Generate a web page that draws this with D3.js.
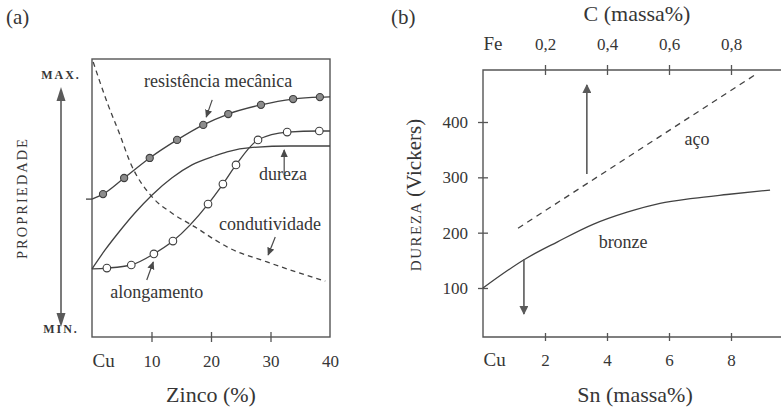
<!DOCTYPE html>
<html>
<head>
<meta charset="utf-8">
<script src="https://cdn.jsdelivr.net/npm/d3@7"></script>
<style>
  body { margin: 0; background: #fff; }
  svg { display: block; font-family: "Liberation Serif", "DejaVu Serif", serif; }
  .ink { fill: #363636; }
  .curve { fill: none; stroke: #424242; stroke-width: 1.3; }
  .frame { fill: none; stroke: #555; stroke-width: 1.4; }
  .tick line { stroke: #555; stroke-width: 1.3; }
  .tick text { fill: #363636; font-family: "Liberation Serif", serif; }
</style>
</head>
<body>
<svg id="chart" width="781" height="410"></svg>
<script>
// ---- painel (a): propriedades do latão vs. zinco ----
var resistZinc = [0, 1.85, 5.4, 9.7, 14.3, 18.7, 22.9, 28.4, 33.8, 38.3, 40];
var resistProp = [49.6, 51.4, 57.2, 64.4, 70.9, 76.3, 80.2, 83.5, 85.6, 86.3, 86.4];

var alongZinc = [0, 2.5, 6.6, 10.4, 13.6, 19.5, 22.0, 24.2, 27.9, 32.8, 38.2, 40];
var alongProp = [24.5, 24.8, 25.9, 29.9, 34.5, 47.8, 55.0, 61.9, 70.9, 73.7, 74.1, 74.1];

var durezaZinc = [0, 2.2, 4.4, 7.2, 10.1, 13.4, 16.8, 20.7, 22.7, 27, 33.3, 40];
var durezaProp = [24.5, 31.3, 37.4, 44.6, 51.1, 57.2, 61.9, 65.2, 66.6, 68.2, 68.7, 68.7];

var condZinc = [0.2, 2.7, 4.7, 6.4, 10.1, 13.4, 17.3, 20.7, 22.7, 29.4, 39.2];
var condProp = [98.9, 83.5, 72.7, 62.9, 50.4, 44.6, 39.6, 34.9, 32.4, 27.0, 20.1];

var zincTicks = [10, 20, 30];
var zincLabels = [0, 10, 20, 30, 40];

// ---- painel (b): dureza de bronze e aço ----
var bronzeSn = [0, 1.35, 2.39, 3.55, 4.65, 5.71, 6.77, 7.87, 9.26];
var bronzeHV = [100, 152, 183, 215, 237, 253, 262, 269, 277];

var steelC = [0.113, 0.877];
var steelHV = [208, 485];

var snTicks = [2, 4, 6, 8];
var snLabels = [0, 2, 4, 6, 8];
var cTicks = [0.2, 0.4, 0.6, 0.8];
var cLabels = [0, 0.2, 0.4, 0.6, 0.8];
var hvTicks = [100, 200, 300, 400];

var zip = (xs, ys) => xs.map((x, i) => [x, ys[i]]);

var svg = d3.select("#chart");

var defs = svg.append("defs");
defs.append("marker")
    .attr("id", "head")
    .attr("viewBox", "0 0 10 10")
    .attr("refX", 9).attr("refY", 5)
    .attr("markerWidth", 8).attr("markerHeight", 8)
    .attr("markerUnits", "userSpaceOnUse")
    .attr("orient", "auto")
  .append("path")
    .attr("d", "M0,0.5 L10,5 L0,9.5 Z")
    .attr("fill", "#4a4a4a");
defs.append("marker")
    .attr("id", "headBig")
    .attr("viewBox", "0 0 10 10")
    .attr("refX", 9).attr("refY", 5)
    .attr("markerWidth", 13).attr("markerHeight", 9)
    .attr("markerUnits", "userSpaceOnUse")
    .attr("orient", "auto")
  .append("path")
    .attr("d", "M0,0 L10,5 L0,10 Z")
    .attr("fill", "#5a5a5a");

function arrow(g, x1, y1, x2, y2, big) {
    g.append("line")
        .attr("x1", x1).attr("y1", y1).attr("x2", x2).attr("y2", y2)
        .attr("stroke", big ? "#5a5a5a" : "#4a4a4a")
        .attr("stroke-width", big ? 1.6 : 1.2)
        .attr("marker-end", big ? "url(#headBig)" : "url(#head)");
}

function label(g, x, y, txt, size, anchor) {
    return g.append("text")
        .attr("class", "ink")
        .attr("x", x).attr("y", y)
        .attr("text-anchor", anchor || "middle")
        .attr("font-size", size)
        .text(txt);
}

// =============== (a) ===============
var A = { left: 92, right: 330, top: 59, bottom: 337 };
var xA = d3.scaleLinear().domain([0, 40]).range([A.left, A.right]);
var yA = d3.scaleLinear().domain([0, 100]).range([A.bottom, A.top]);
var gA = svg.append("g");

label(gA, 6, 24, "(a)", 21, "start");

gA.append("rect").attr("class", "frame")
    .attr("x", A.left).attr("y", A.top)
    .attr("width", A.right - A.left).attr("height", A.bottom - A.top);

var ticksA = gA.append("g")
    .attr("transform", `translate(0,${A.bottom})`)
    .call(d3.axisBottom(xA).tickValues(zincTicks).tickSize(5).tickFormat(""));
ticksA.select(".domain").remove();
ticksA.selectAll(".tick line").attr("y1", -5);

var labA = gA.append("g")
    .attr("transform", `translate(0,${A.bottom})`)
    .call(d3.axisBottom(xA).tickValues(zincLabels).tickSize(0)
        .tickFormat(d => d === 0 ? "Cu" : d));
labA.select(".domain").remove();
labA.selectAll(".tick text")
    .attr("y", 30).attr("dy", 0)
    .attr("font-size", d => d === 0 ? 19 : 17)
    .attr("text-anchor", d => d === 0 ? "start" : "middle");

label(gA, xA(20), 402, "Zinco (%)", 22);

var lineA = d3.line().x(d => xA(d[0])).y(d => yA(d[1])).curve(d3.curveMonotoneX);

// condutividade (tracejada)
gA.append("path").attr("class", "curve")
    .attr("stroke-dasharray", "5,4")
    .attr("d", lineA(zip(condZinc, condProp)));

// dureza
gA.append("path").attr("class", "curve")
    .attr("d", lineA(zip(durezaZinc, durezaProp)));

// resistência mecânica
var resPts = zip(resistZinc, resistProp);
gA.append("line").attr("class", "curve")
    .attr("x1", xA(0) - 6).attr("x2", xA(0))
    .attr("y1", yA(resistProp[0])).attr("y2", yA(resistProp[0]));
gA.append("path").attr("class", "curve").attr("d", lineA(resPts));
gA.selectAll(".res").data(resPts.slice(1, -1)).enter().append("circle")
    .attr("cx", d => xA(d[0])).attr("cy", d => yA(d[1])).attr("r", 3.6)
    .attr("fill", "#8c8c8c").attr("stroke", "#3e3e3e").attr("stroke-width", 1.1);

// alongamento
var alPts = zip(alongZinc, alongProp);
gA.append("path").attr("class", "curve").attr("d", lineA(alPts));
gA.selectAll(".al").data(alPts.slice(1, -1)).enter().append("circle")
    .attr("cx", d => xA(d[0])).attr("cy", d => yA(d[1])).attr("r", 3.8)
    .attr("fill", "#fff").attr("stroke", "#3e3e3e").attr("stroke-width", 1.1);

// rótulos das curvas
label(gA, xA(21.2), yA(90), "resistência mecânica", 18);
arrow(gA, xA(20.2), yA(85.3), xA(19.2), yA(79.1));
label(gA, xA(32.1), yA(56.3), "dureza", 18);
arrow(gA, xA(32.3), yA(58.3), xA(32.3), yA(67.3));
label(gA, xA(29.9), yA(38.5), "condutividade", 18);
arrow(gA, xA(30.8), yA(36.0), xA(29.6), yA(29.5));
label(gA, xA(10.9), yA(14.0), "alongamento", 18);
arrow(gA, xA(9.2), yA(20.5), xA(10.3), yA(27.0));

// eixo qualitativo à esquerda
var axX = 61;
gA.append("line")
    .attr("x1", axX).attr("x2", axX).attr("y1", 100).attr("y2", 314)
    .attr("stroke", "#5a5a5a").attr("stroke-width", 1.6);
gA.append("path").attr("d", `M${axX},87 L${axX - 4.5},101 L${axX + 4.5},101 Z`).attr("fill", "#5a5a5a");
gA.append("path").attr("d", `M${axX},327 L${axX - 4.5},313 L${axX + 4.5},313 Z`).attr("fill", "#5a5a5a");
label(gA, axX, 79, "MAX.", 12).attr("font-weight", "bold").attr("letter-spacing", 2);
label(gA, axX, 333, "MIN.", 12).attr("font-weight", "bold").attr("letter-spacing", 2);
label(gA, 0, 0, "PROPRIEDADE", 14.5)
    .attr("transform", "translate(27,198) rotate(-90)")
    .attr("letter-spacing", 2);

// =============== (b) ===============
var B = { left: 483, right: 781, top: 70, bottom: 337 };
var xSn = d3.scaleLinear().domain([0, 8]).range([B.left, 731]);
var xC = d3.scaleLinear().domain([0, 0.8]).range([B.left, 731]);
var yB = d3.scaleLinear().domain([100, 400]).range([288, 122]);
var gB = svg.append("g");

label(gB, 391, 24, "(b)", 21, "start");

gB.append("path").attr("class", "frame")
    .attr("d", `M${B.right},${B.top} H${B.left} V${B.bottom} H${B.right}`);

var tb = gB.append("g").attr("transform", `translate(0,${B.bottom})`)
    .call(d3.axisBottom(xSn).tickValues(snTicks).tickSize(4).tickFormat(""));
tb.select(".domain").remove();
tb.selectAll(".tick line").attr("y1", -4);

var lb = gB.append("g").attr("transform", `translate(0,${B.bottom})`)
    .call(d3.axisBottom(xSn).tickValues(snLabels).tickSize(0)
        .tickFormat(d => d === 0 ? "Cu" : d));
lb.select(".domain").remove();
lb.selectAll(".tick text")
    .attr("y", 29).attr("dy", 0)
    .attr("font-size", d => d === 0 ? 19 : 17)
    .attr("text-anchor", d => d === 0 ? "start" : "middle");

var tt = gB.append("g").attr("transform", `translate(0,${B.top})`)
    .call(d3.axisTop(xC).tickValues(cTicks).tickSize(5).tickFormat(""));
tt.select(".domain").remove();
tt.selectAll(".tick line").attr("y1", 5);

var lt = gB.append("g").attr("transform", `translate(0,${B.top})`)
    .call(d3.axisTop(xC).tickValues(cLabels).tickSize(0)
        .tickFormat(d => d === 0 ? "Fe" : d3.format(".1f")(d).replace(".", ",")));
lt.select(".domain").remove();
lt.selectAll(".tick text")
    .attr("y", -20).attr("dy", 0)
    .attr("font-size", d => d === 0 ? 19 : 17)
    .attr("text-anchor", d => d === 0 ? "start" : "middle");

var tl = gB.append("g").attr("transform", `translate(${B.left},0)`)
    .call(d3.axisLeft(yB).tickValues(hvTicks).tickSize(5));
tl.select(".domain").remove();
tl.selectAll(".tick line").attr("x1", 5);
tl.selectAll(".tick text").attr("x", -15).attr("font-size", 17);

label(gB, 637, 21, "C (massa%)", 22);
label(gB, 635, 402, "Sn (massa%)", 22);

var yt = gB.append("text").attr("class", "ink")
    .attr("transform", "translate(421,195) rotate(-90)")
    .attr("text-anchor", "middle");
yt.append("tspan").attr("font-size", 15).attr("letter-spacing", 1.5).text("DUREZA ");
yt.append("tspan").attr("font-size", 21).text("(Vickers)");

// aço (tracejada, escala de C)
var lineC = d3.line().x(d => xC(d[0])).y(d => yB(d[1]));
gB.append("path").attr("class", "curve")
    .attr("stroke-dasharray", "6,5")
    .attr("d", lineC(zip(steelC, steelHV)));

// bronze (escala de Sn)
var lineSn = d3.line().x(d => xSn(d[0])).y(d => yB(d[1])).curve(d3.curveMonotoneX);
gB.append("path").attr("class", "curve")
    .attr("d", lineSn(zip(bronzeSn, bronzeHV)));

label(gB, xC(0.69), yB(358), "aço", 18);
label(gB, xSn(4.52), yB(172), "bronze", 18);

arrow(gB, xC(0.335), yB(306), xC(0.335), yB(467), true);
arrow(gB, xSn(1.32), yB(152), xSn(1.32), yB(53), true);
</script>
</body>
</html>
